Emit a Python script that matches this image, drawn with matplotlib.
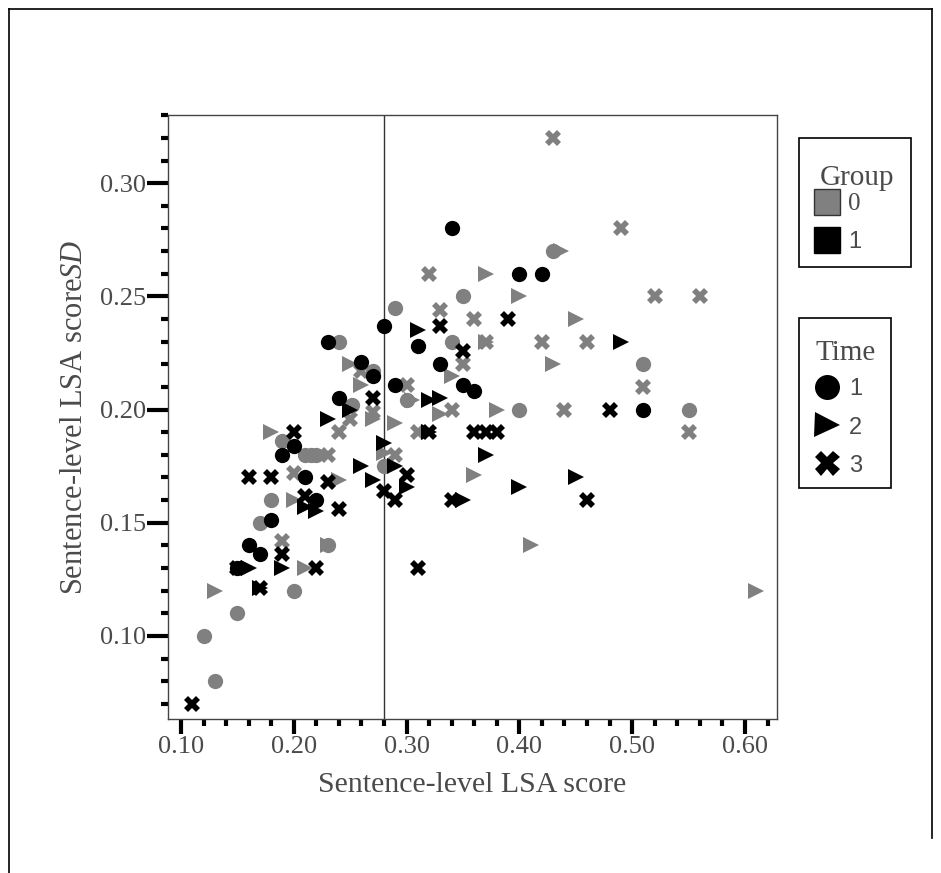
import matplotlib.pyplot as plt
from matplotlib.lines import Line2D
from matplotlib.patches import Rectangle
from matplotlib.ticker import MultipleLocator, FormatStrFormatter

plt.rcParams['font.family'] = 'Liberation Serif'
plt.rcParams['mathtext.fontset'] = 'custom'
plt.rcParams['mathtext.it'] = 'Liberation Serif:italic'
plt.rcParams['mathtext.rm'] = 'Liberation Serif'

# group 0, time 1 (circles)
g0_t1_x = [0.13, 0.12, 0.15, 0.20, 0.17, 0.18, 0.23, 0.19, 0.21, 0.215, 0.22, 0.28,
           0.252, 0.29, 0.35, 0.24, 0.27, 0.34, 0.30, 0.40, 0.55, 0.51, 0.43]
g0_t1_y = [0.08, 0.10, 0.11, 0.12, 0.15, 0.16, 0.14, 0.186, 0.18, 0.18, 0.18, 0.175,
           0.202, 0.245, 0.25, 0.23, 0.217, 0.23, 0.204, 0.20, 0.20, 0.22, 0.27]
# group 0, time 2 (triangles)
g0_t2_x = [0.13, 0.21, 0.23, 0.20, 0.24, 0.18, 0.26, 0.25, 0.27, 0.29, 0.28, 0.305,
           0.34, 0.33, 0.38, 0.36, 0.37, 0.40, 0.37, 0.437, 0.43, 0.45, 0.41, 0.61]
g0_t2_y = [0.12, 0.13, 0.14, 0.16, 0.169, 0.19, 0.211, 0.22, 0.196, 0.194, 0.181, 0.204,
           0.215, 0.198, 0.20, 0.171, 0.23, 0.25, 0.26, 0.27, 0.22, 0.24, 0.14, 0.12]
# group 0, time 3 (crosses)
g0_t3_x = [0.19, 0.20, 0.23, 0.24, 0.25, 0.27, 0.26, 0.29, 0.30, 0.31, 0.33, 0.32, 0.34,
           0.35, 0.36, 0.37, 0.43, 0.49, 0.52, 0.56, 0.42, 0.46, 0.44, 0.51, 0.55]
g0_t3_y = [0.142, 0.172, 0.18, 0.19, 0.196, 0.199, 0.217, 0.18, 0.211, 0.19, 0.244, 0.26, 0.20,
           0.22, 0.24, 0.23, 0.32, 0.28, 0.25, 0.25, 0.23, 0.23, 0.20, 0.21, 0.19]

# group 1, time 1 (circles)
g1_t1_x = [0.15, 0.16, 0.17, 0.18, 0.22, 0.21, 0.19, 0.20, 0.24, 0.23, 0.26, 0.27,
           0.28, 0.31, 0.29, 0.33, 0.35, 0.36, 0.34, 0.40, 0.42, 0.51]
g1_t1_y = [0.13, 0.14, 0.136, 0.151, 0.16, 0.17, 0.18, 0.184, 0.205, 0.23, 0.221, 0.215,
           0.237, 0.228, 0.211, 0.22, 0.211, 0.208, 0.28, 0.26, 0.26, 0.20]
# group 1, time 2 (triangles)
g1_t2_x = [0.16, 0.17, 0.19, 0.21, 0.22, 0.23, 0.25, 0.26, 0.27, 0.28, 0.29, 0.30,
           0.31, 0.32, 0.33, 0.32, 0.35, 0.37, 0.40, 0.45, 0.49]
g1_t2_y = [0.13, 0.121, 0.13, 0.157, 0.155, 0.196, 0.20, 0.175, 0.169, 0.185, 0.175, 0.166,
           0.235, 0.204, 0.205, 0.19, 0.16, 0.18, 0.166, 0.17, 0.23]
# group 1, time 3 (crosses)
g1_t3_x = [0.11, 0.17, 0.15, 0.22, 0.31, 0.19, 0.24, 0.21, 0.16, 0.18, 0.23, 0.20, 0.28,
           0.29, 0.30, 0.34, 0.46, 0.27, 0.33, 0.35, 0.39, 0.32, 0.36, 0.37, 0.38, 0.48]
g1_t3_y = [0.07, 0.121, 0.13, 0.13, 0.13, 0.136, 0.156, 0.162, 0.17, 0.17, 0.168, 0.19, 0.164,
           0.16, 0.171, 0.16, 0.16, 0.205, 0.237, 0.226, 0.24, 0.19, 0.19, 0.19, 0.19, 0.20]

group_labels = ['0', '1']
time_labels = ['1', '2', '3']

GRAY = '#808080'
TXT = '#4a4a4a'
W, H = 941, 873

fig = plt.figure(figsize=(W / 100, H / 100), dpi=100)
ax = fig.add_axes([168 / W, 1 - 719 / H, (777 - 168) / W, (719 - 115) / H])

series = [
    (g0_t1_x, g0_t1_y, GRAY, 'o', 11),
    (g0_t2_x, g0_t2_y, GRAY, '>', 11.5),
    (g0_t3_x, g0_t3_y, GRAY, 'X', 11),
    (g1_t1_x, g1_t1_y, 'black', 'o', 11),
    (g1_t2_x, g1_t2_y, 'black', '>', 11.5),
    (g1_t3_x, g1_t3_y, 'black', 'X', 11),
]
for xs, ys, col, mk, ms in series:
    ax.plot(xs, ys, linestyle='none', marker=mk, ms=ms, mfc=col, mec=col, mew=0, zorder=3)

ax.axvline(0.28, color='#333333', lw=1, zorder=2)

ax.set_xlim(0.0885, 0.6284)
ax.set_ylim(0.0633, 0.3301)
ax.xaxis.set_major_locator(MultipleLocator(0.1))
ax.xaxis.set_minor_locator(MultipleLocator(0.02))
ax.yaxis.set_major_locator(MultipleLocator(0.05))
ax.yaxis.set_minor_locator(MultipleLocator(0.01))
ax.xaxis.set_major_formatter(FormatStrFormatter('%.2f'))
ax.yaxis.set_major_formatter(FormatStrFormatter('%.2f'))
ax.tick_params(which='major', length=15, width=3, color='black', labelsize=19,
               labelcolor=TXT, pad=1)
ax.tick_params(axis='x', which='major', length=11, pad=1)
ax.tick_params(which='minor', length=5, width=3, color='black')
for sp in ax.spines.values():
    sp.set_color('#444444')
    sp.set_linewidth(1)

ax.set_xlabel('Sentence-level LSA score', fontsize=21.5, color=TXT, labelpad=10)
ax.set_ylabel(r'Sentence-level LSA score$\mathit{SD}$', fontsize=22, color=TXT, labelpad=8)


# legend boxes drawn in figure pixels (origin top-left)
def fx(x):
    return x / W


def fy(y):
    return 1 - y / H


def legend_box(x0, y0, x1, y1):
    fig.add_artist(Rectangle((fx(x0), fy(y1)), (x1 - x0) / W, (y1 - y0) / H,
                             transform=fig.transFigure, fill=False,
                             edgecolor='black', lw=1.2))


legend_box(799, 138, 911, 267)
fig.text(fx(857), fy(185), 'Group', fontsize=21, color=TXT, ha='center', va='baseline')
for i, (lab, col) in enumerate(zip(group_labels, [GRAY, 'black'])):
    yc = 202 + 38 * i
    fig.add_artist(Line2D([fx(827)], [fy(yc)], linestyle='none', marker='s', ms=18.5,
                          mfc=col, mec='#333333' if col == GRAY else 'black', mew=1,
                          transform=fig.transFigure))
    fam = 'Liberation Serif' if i == 0 else 'Liberation Sans'
    fs = 18 if i == 0 else 17
    fig.text(fx(848), fy(yc + 8.5), lab, fontsize=fs, family=fam, color=TXT,
             ha='left', va='baseline')

legend_box(799, 318, 891, 488)
fig.text(fx(846), fy(360), 'Time', fontsize=21, color=TXT, ha='center', va='baseline')
for i, (lab, mk) in enumerate(zip(time_labels, ['o', '>', 'X'])):
    yc = 387 + 38 * i
    fig.add_artist(Line2D([fx(827)], [fy(yc)], linestyle='none', marker=mk, ms=18,
                          mfc='black', mec='black', mew=0, transform=fig.transFigure))
    fig.text(fx(849), fy(yc + 8.5), lab, fontsize=17, family='Liberation Sans',
             color=TXT, ha='left', va='baseline')

# outer frame
fig.add_artist(Line2D([9 / W, 9 / W], [0, 1 - 9 / H], color='black', lw=1.2))
fig.add_artist(Line2D([9 / W, 932 / W], [1 - 9 / H, 1 - 9 / H], color='black', lw=1.2))
fig.add_artist(Line2D([932 / W, 932 / W], [1 - 9 / H, 1 - 838 / H], color='black', lw=1.2))

fig.savefig('out.png', dpi=100)
